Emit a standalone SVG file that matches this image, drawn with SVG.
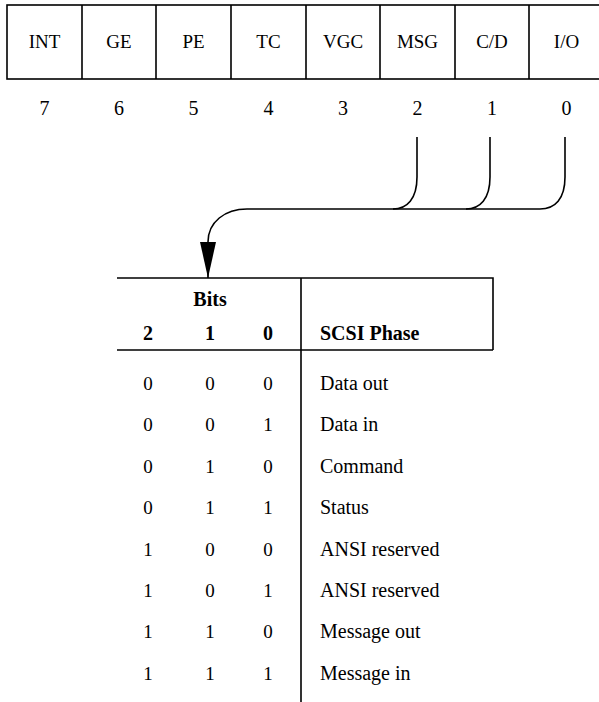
<svg xmlns="http://www.w3.org/2000/svg" width="599" height="702" viewBox="0 0 599 702">
<defs>
<style>
.t{font-family:"Liberation Serif",serif;fill:#000;text-anchor:middle}
.reg{font-size:19px}
.num{font-size:20px}
.b{font-weight:bold;font-size:20px}
.cell{font-size:19px}
.lab{font-size:20px;text-anchor:start}
.ln{stroke:#000;stroke-width:1.6;fill:none}
</style>
<marker id="arr" markerUnits="userSpaceOnUse" viewBox="0 0 36 16" markerWidth="36" markerHeight="16" refX="36" refY="8" orient="auto">
<path d="M0,0 L36,8 L0,16 z" fill="#000"/>
</marker>
</defs>
<g id="register">
<rect class="ln" x="7" y="5" width="600" height="74"/>
<path class="ln" d="M82,5V79M156,5V79M231,5V79M306,5V79M380,5V79M455,5V79M529,5V79"/>
<text class="t reg" x="44.5" y="48">INT</text>
<text class="t reg" x="119" y="48">GE</text>
<text class="t reg" x="193.5" y="48">PE</text>
<text class="t reg" x="268.5" y="48">TC</text>
<text class="t reg" x="343" y="48">VGC</text>
<text class="t reg" x="417.5" y="48">MSG</text>
<text class="t reg" x="492" y="48">C/D</text>
<text class="t reg" x="566.5" y="48">I/O</text>
<text class="t num" x="44.5" y="115">7</text>
<text class="t num" x="119" y="115">6</text>
<text class="t num" x="193.5" y="115">5</text>
<text class="t num" x="268.5" y="115">4</text>
<text class="t num" x="343" y="115">3</text>
<text class="t num" x="417.5" y="115">2</text>
<text class="t num" x="492" y="115">1</text>
<text class="t num" x="566.5" y="115">0</text>
</g>
<g id="connectors">
<path class="ln" d="M417,137V177C417,199 407,209 393,209"/>
<path class="ln" d="M490,137V177C490,199 480,209 466,209"/>
<path class="ln" d="M565,137V177C565,199 555,209 540,209H247C225,209 208,222 208,242V278" marker-end="url(#arr)"/>
</g>
<g id="table">
<path class="ln" d="M117,278H493V350M117,350H493M301,278V702"/>
<text class="t b" x="210" y="306">Bits</text>
<text class="t b" x="148" y="340">2</text>
<text class="t b" x="210" y="340">1</text>
<text class="t b" x="268" y="340">0</text>
<text class="t b" x="320" y="340" style="text-anchor:start">SCSI Phase</text>
<g id="rows">
<text class="t cell" x="148" y="390">0</text><text class="t cell" x="210" y="390">0</text><text class="t cell" x="268" y="390">0</text><text class="t lab" x="320" y="390">Data out</text>
<text class="t cell" x="148" y="431.4">0</text><text class="t cell" x="210" y="431.4">0</text><text class="t cell" x="268" y="431.4">1</text><text class="t lab" x="320" y="431.4">Data in</text>
<text class="t cell" x="148" y="472.8">0</text><text class="t cell" x="210" y="472.8">1</text><text class="t cell" x="268" y="472.8">0</text><text class="t lab" x="320" y="472.8">Command</text>
<text class="t cell" x="148" y="514.2">0</text><text class="t cell" x="210" y="514.2">1</text><text class="t cell" x="268" y="514.2">1</text><text class="t lab" x="320" y="514.2">Status</text>
<text class="t cell" x="148" y="555.6">1</text><text class="t cell" x="210" y="555.6">0</text><text class="t cell" x="268" y="555.6">0</text><text class="t lab" x="320" y="555.6">ANSI reserved</text>
<text class="t cell" x="148" y="597">1</text><text class="t cell" x="210" y="597">0</text><text class="t cell" x="268" y="597">1</text><text class="t lab" x="320" y="597">ANSI reserved</text>
<text class="t cell" x="148" y="638.4">1</text><text class="t cell" x="210" y="638.4">1</text><text class="t cell" x="268" y="638.4">0</text><text class="t lab" x="320" y="638.4">Message out</text>
<text class="t cell" x="148" y="679.8">1</text><text class="t cell" x="210" y="679.8">1</text><text class="t cell" x="268" y="679.8">1</text><text class="t lab" x="320" y="679.8">Message in</text>
</g>
</g>
</svg>
